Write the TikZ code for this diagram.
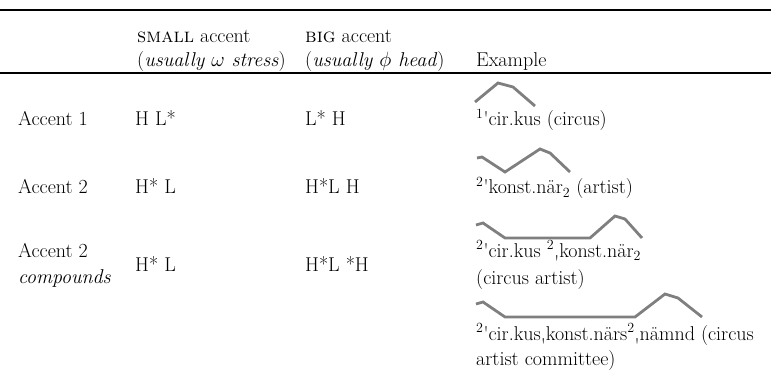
\documentclass[tikz,border=0pt]{standalone}
\usepackage{tikz}
\usetikzlibrary{positioning}
\definecolor{ContourGray}{HTML}{7F7F7F}
\tikzset{
  every node/.style = {font=\fontsize{20}{24}\selectfont, text=black, inner sep=0pt},
  cell/.style = {anchor=base west},
  rule top/.style = {draw=black, line width=2.0pt},
  rule mid/.style = {draw=black, line width=1.4pt},
  contour/.style = {draw=ContourGray, line width=2.8pt, line join=miter, line cap=butt},
}
\newcommand{\PrimTick}[1]{\textsuperscript{#1}\textquotesingle}
\newcommand{\LowTick}{\raisebox{-0.62em}[0pt][0pt]{\textquotesingle}}

\begin{document}
\begin{tikzpicture}[x=1pt,y=-1pt]
  \useasboundingbox (0,0) rectangle (771,374);

  % rules
  \draw[rule top] (0,10) -- (771,10);
  \draw[rule mid] (0,73) -- (771,73);

  % header
  \node[cell] (hsmall) at (137,43) {\textsc{small} accent};
  \node[cell] (hsmallsub) at (137,67) {(\textit{usually $\omega$ stress})};
  \node[cell] (hbig) at (305,43) {\textsc{big} accent};
  \node[cell] (hbigsub) at (305,67) {(\textit{usually $\phi$ head})};
  \node[cell] (hex) at (476,67) {Example};

  % accent 1
  \node[cell] (lab1) at (18,126) {Accent 1};
  \node[cell] (small1) at (135,126) {H L*};
  \node[cell] (big1) at (305,126) {L* H};
  \node[cell] (ex1) at (476,126) {\PrimTick{1}cir.kus (circus)};
  \draw[contour] (475,102) -- (498,83) -- (513,87) -- (535,106);

  % accent 2
  \node[cell] (lab2) at (18,194) {Accent 2};
  \node[cell] (small2) at (135,194) {H* L};
  \node[cell] (big2) at (305,194) {H*L H};
  \node[cell] (ex2) at (476,194) {\PrimTick{2}konst.när\textsubscript{2} (artist)};
  \draw[contour] (477,158) -- (482,157) -- (505,172) -- (540,149) -- (550,153) -- (570,172);

  % accent 2 compounds
  \node[cell] (lab3) at (18,258) {Accent 2};
  \node[cell] (lab3sub) at (18,283) {\textit{compounds}};
  \node[cell] (small3) at (135,271) {H* L};
  \node[cell] (big3) at (305,271) {H*L *H};
  \node[cell] (ex3) at (476,257) {\PrimTick{2}cir.kus \textsuperscript{2}\LowTick konst.när\textsubscript{2}};
  \node[cell] (ex3sub) at (476,284) {(circus artist)};
  \draw[contour] (476,225) -- (483,223) -- (505,238) -- (590,238) -- (615,216) -- (625,219) -- (642,238);

  \node[cell] (ex4) at (476,340) {\PrimTick{2}cir.kus\LowTick konst.närs\textsuperscript{2}\LowTick nämnd (circus};
  \node[cell] (ex4sub) at (476,365) {artist committee)};
  \draw[contour] (476,304) -- (483,302) -- (505,317) -- (635,317) -- (665,294) -- (678,298) -- (702,317);
\end{tikzpicture}
\end{document}
